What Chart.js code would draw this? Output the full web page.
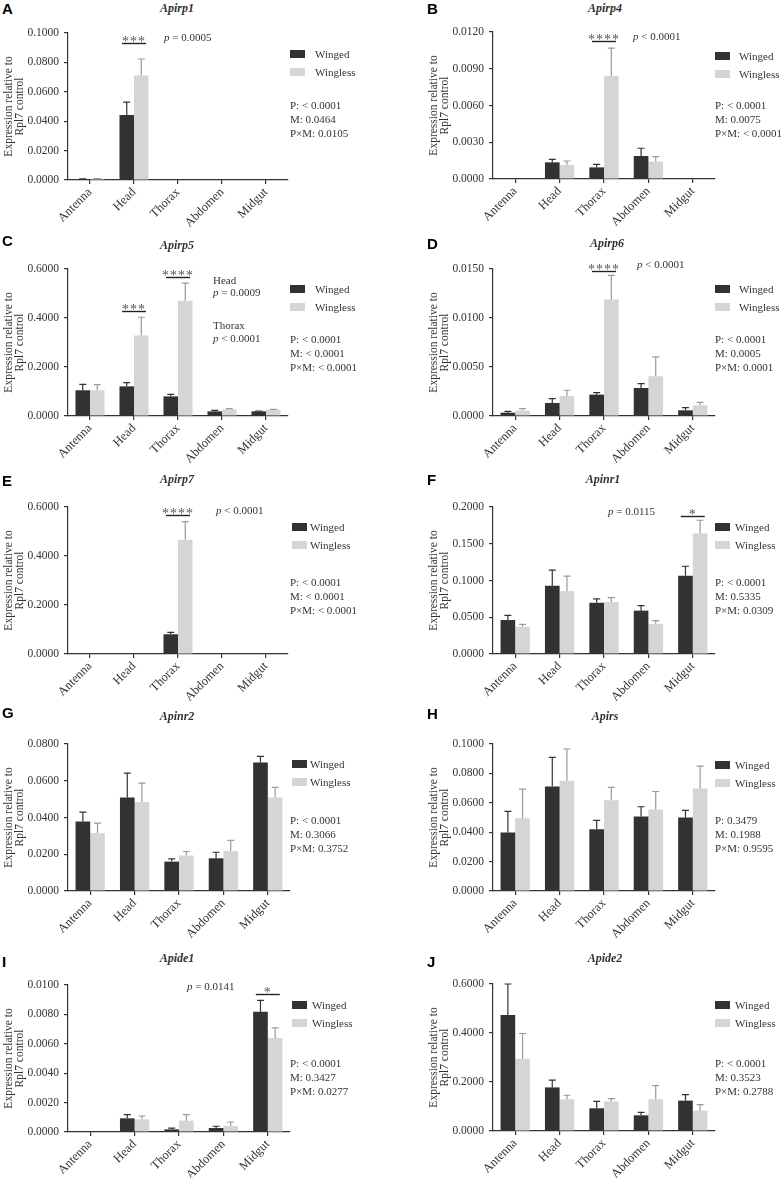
<!DOCTYPE html>
<html>
<head>
<meta charset="utf-8">
<script src="https://cdn.jsdelivr.net/npm/chart.js@4.4.0/dist/chart.umd.min.js"></script>
<style>
  body { margin: 0; background: #fff; }
  #fig { position: relative; width: 783px; height: 1178px; overflow: hidden;
         font-family: "Liberation Serif", "Times New Roman", serif; font-size: 11px; color: #333; }
  #fig canvas { position: absolute; }
  .t { position: absolute; white-space: nowrap; line-height: 12px; }
  .letter { font-family: "Liberation Sans", Arial, sans-serif; font-weight: bold; font-size: 15px;
            line-height: 15px; color: #000; }
  .gene { font-weight: bold; font-style: italic; font-size: 12px; transform: translateX(-50%); }
  .sw { position: absolute; width: 15px; height: 8px; }
</style>
</head>
<body>
<div id="fig"></div>
<script>
// ─── Données ──────────────────────────────────────────────────────────────
const TISSUES = ['Antenna', 'Head', 'Thorax', 'Abdomen', 'Midgut'];
const SERIES  = ['Winged', 'Wingless'];

// moyenne + SEM (barre d'erreur supérieure) par tissu
const APIRP1_WINGED       = [0.0006, 0.0443, 0, 0, 0];
const APIRP1_WINGED_SEM   = [0.0002, 0.0087, 0, 0, 0];
const APIRP1_WINGLESS     = [0.0008, 0.0711, 0, 0, 0];
const APIRP1_WINGLESS_SEM = [0.0002, 0.0112, 0, 0, 0];

const APIRP4_WINGED       = [0, 0.00136, 0.00095, 0.00188, 0];
const APIRP4_WINGED_SEM   = [0, 0.00025, 0.00025, 0.00063, 0];
const APIRP4_WINGLESS     = [0, 0.00115, 0.00843, 0.00142, 0];
const APIRP4_WINGLESS_SEM = [0, 0.00032, 0.00226, 0.00041, 0];

const APIRP5_WINGED       = [0.105, 0.121, 0.080, 0.019, 0.019];
const APIRP5_WINGED_SEM   = [0.024, 0.015, 0.0086, 0.004, 0.0015];
const APIRP5_WINGLESS     = [0.105, 0.329, 0.470, 0.0273, 0.026];
const APIRP5_WINGLESS_SEM = [0.023, 0.074, 0.0726, 0.003, 0.001];

const APIRP6_WINGED       = [0.00034, 0.00133, 0.00218, 0.00286, 0.00058];
const APIRP6_WINGED_SEM   = [0.00014, 0.00044, 0.00021, 0.00045, 0.00027];
const APIRP6_WINGLESS     = [0.00055, 0.00205, 0.0119, 0.00406, 0.00109];
const APIRP6_WINGLESS_SEM = [0.0002, 0.00058, 0.00245, 0.00197, 0.00031];

const APIRP7_WINGED       = [0, 0, 0.0805, 0, 0];
const APIRP7_WINGED_SEM   = [0, 0, 0.0081, 0, 0];
const APIRP7_WINGLESS     = [0, 0, 0.4664, 0, 0];
const APIRP7_WINGLESS_SEM = [0, 0, 0.0736, 0, 0];

const APINR1_WINGED       = [0.0462, 0.0928, 0.0697, 0.059, 0.1063];
const APINR1_WINGED_SEM   = [0.0063, 0.0212, 0.0054, 0.0068, 0.0131];
const APINR1_WINGLESS     = [0.0371, 0.0855, 0.0707, 0.041, 0.1638];
const APINR1_WINGLESS_SEM = [0.0032, 0.0204, 0.0059, 0.0045, 0.0182];

const APINR2_WINGED       = [0.0378, 0.0509, 0.016, 0.0178, 0.070];
const APINR2_WINGED_SEM   = [0.0051, 0.0133, 0.0015, 0.0033, 0.0033];
const APINR2_WINGLESS     = [0.0315, 0.0484, 0.0193, 0.0218, 0.0509];
const APINR2_WINGLESS_SEM = [0.0054, 0.0103, 0.0022, 0.0057, 0.0055];

const APIRS_WINGED        = [0.0398, 0.0711, 0.042, 0.0507, 0.050];
const APIRS_WINGED_SEM    = [0.0143, 0.0198, 0.006, 0.0066, 0.0048];
const APIRS_WINGLESS      = [0.0495, 0.075, 0.0618, 0.0555, 0.0698];
const APIRS_WINGLESS_SEM  = [0.0198, 0.0216, 0.0087, 0.0122, 0.0152];

const APIDE1_WINGED       = [0, 0.00093, 0.00018, 0.00027, 0.00818];
const APIDE1_WINGED_SEM   = [0, 0.00025, 0.00009, 0.00012, 0.00077];
const APIDE1_WINGLESS     = [0, 0.00086, 0.00077, 0.00041, 0.0064];
const APIDE1_WINGLESS_SEM = [0, 0.00023, 0.00041, 0.00027, 0.00069];

const APIDE2_WINGED       = [0.473, 0.178, 0.0927, 0.064, 0.124];
const APIDE2_WINGED_SEM   = [0.127, 0.030, 0.0283, 0.0124, 0.0246];
const APIDE2_WINGLESS     = [0.2945, 0.1295, 0.121, 0.1295, 0.083];
const APIDE2_WINGLESS_SEM = [0.1035, 0.0165, 0.011, 0.056, 0.025];

// axes Y : [max, pas]
const Y_APIRP1 = [0.1, 0.02];
const Y_APIRP4 = [0.012, 0.003];
const Y_APIRP5 = [0.6, 0.2];
const Y_APIRP6 = [0.015, 0.005];
const Y_APIRP7 = [0.6, 0.2];
const Y_APINR1 = [0.2, 0.05];
const Y_APINR2 = [0.08, 0.02];
const Y_APIRS  = [0.1, 0.02];
const Y_APIDE1 = [0.01, 0.002];
const Y_APIDE2 = [0.6, 0.2];

// ─── Mise en page des 10 panneaux ─────────────────────────────────────────
const COLOR_WINGED   = '#323232';
const COLOR_WINGLESS = '#d5d5d5';
const INK = '#333';
const AXIS_H = 147;

const PANELS = [
  { letter: 'A', gene: 'Apirp1', w: APIRP1_WINGED, ws: APIRP1_WINGED_SEM, l: APIRP1_WINGLESS, ls: APIRP1_WINGLESS_SEM, yax: Y_APIRP1,
    ax: [68, 33, 288], lx: [2, 8], gx: [177, 8], leg: [290, 54, 315], stats: [290, 105, ['P: < 0.0001', 'M: 0.0464', 'P×M: 0.0105']],
    sig: [{ cat: 1, y: 0.0932, stars: '***' }], notes: [[164, 37, '<i>p</i> = 0.0005']] },
  { letter: 'B', gene: 'Apirp4', w: APIRP4_WINGED, ws: APIRP4_WINGED_SEM, l: APIRP4_WINGLESS, ls: APIRP4_WINGLESS_SEM, yax: Y_APIRP4,
    ax: [493, 32, 715], lx: [427, 8], gx: [605, 8], leg: [715, 56, 739], stats: [715, 105, ['P: < 0.0001', 'M: 0.0075', 'P×M: < 0.0001']],
    sig: [{ cat: 2, y: 0.01124, stars: '****' }], notes: [[633, 36, '<i>p</i> < 0.0001']] },
  { letter: 'C', gene: 'Apirp5', w: APIRP5_WINGED, ws: APIRP5_WINGED_SEM, l: APIRP5_WINGLESS, ls: APIRP5_WINGLESS_SEM, yax: Y_APIRP5,
    ax: [68, 269, 288], lx: [2, 240], gx: [177, 245], leg: [290, 289, 315], stats: [290, 339, ['P: < 0.0001', 'M: < 0.0001', 'P×M: < 0.0001']],
    sig: [{ cat: 1, y: 0.4305, stars: '***' }, { cat: 2, y: 0.5686, stars: '****' }],
    notes: [[213, 280, 'Head'], [213, 292, '<i>p</i> = 0.0009'], [213, 325, 'Thorax'], [213, 338, '<i>p</i> < 0.0001']] },
  { letter: 'D', gene: 'Apirp6', w: APIRP6_WINGED, ws: APIRP6_WINGED_SEM, l: APIRP6_WINGLESS, ls: APIRP6_WINGLESS_SEM, yax: Y_APIRP6,
    ax: [493, 269, 715], lx: [427, 243], gx: [607, 243], leg: [715, 289, 739], stats: [715, 339, ['P: < 0.0001', 'M: 0.0005', 'P×M: 0.0001']],
    sig: [{ cat: 2, y: 0.0148, stars: '****' }], notes: [[637, 264, '<i>p</i> < 0.0001']] },
  { letter: 'E', gene: 'Apirp7', w: APIRP7_WINGED, ws: APIRP7_WINGED_SEM, l: APIRP7_WINGLESS, ls: APIRP7_WINGLESS_SEM, yax: Y_APIRP7,
    ax: [68, 507, 288], lx: [2, 480], gx: [177, 479], leg: [292, 527, 310], stats: [290, 582, ['P: < 0.0001', 'M: < 0.0001', 'P×M: < 0.0001']],
    sig: [{ cat: 2, y: 0.566, stars: '****' }], notes: [[216, 510, '<i>p</i> < 0.0001']] },
  { letter: 'F', gene: 'Apinr1', w: APINR1_WINGED, ws: APINR1_WINGED_SEM, l: APINR1_WINGLESS, ls: APINR1_WINGLESS_SEM, yax: Y_APINR1,
    ax: [493, 507, 715], lx: [427, 479], gx: [603, 479], leg: [715, 527, 735], stats: [715, 582, ['P: < 0.0001', 'M: 0.5335', 'P×M: 0.0309']],
    sig: [{ cat: 4, y: 0.188, stars: '*' }], notes: [[608, 511, '<i>p</i> = 0.0115']] },
  { letter: 'G', gene: 'Apinr2', w: APINR2_WINGED, ws: APINR2_WINGED_SEM, l: APINR2_WINGLESS, ls: APINR2_WINGLESS_SEM, yax: Y_APINR2,
    ax: [68, 744, 290], lx: [2, 712], gx: [177, 716], leg: [292, 764, 310], stats: [290, 820, ['P: < 0.0001', 'M: 0.3066', 'P×M: 0.3752']],
    sig: [], notes: [] },
  { letter: 'H', gene: 'Apirs', w: APIRS_WINGED, ws: APIRS_WINGED_SEM, l: APIRS_WINGLESS, ls: APIRS_WINGLESS_SEM, yax: Y_APIRS,
    ax: [493, 744, 715], lx: [427, 713], gx: [605, 716], leg: [715, 765, 735], stats: [715, 820, ['P: 0.3479', 'M: 0.1988', 'P×M: 0.9595']],
    sig: [], notes: [] },
  { letter: 'I', gene: 'Apide1', w: APIDE1_WINGED, ws: APIDE1_WINGED_SEM, l: APIDE1_WINGLESS, ls: APIDE1_WINGLESS_SEM, yax: Y_APIDE1,
    ax: [68, 985, 290], lx: [2, 961], gx: [177, 958], leg: [292, 1005, 312], stats: [290, 1063, ['P: < 0.0001', 'M: 0.3427', 'P×M: 0.0277']],
    sig: [{ cat: 4, y: 0.0094, stars: '*' }], notes: [[187, 986, '<i>p</i> = 0.0141']] },
  { letter: 'J', gene: 'Apide2', w: APIDE2_WINGED, ws: APIDE2_WINGED_SEM, l: APIDE2_WINGLESS, ls: APIDE2_WINGLESS_SEM, yax: Y_APIDE2,
    ax: [493, 984, 715], lx: [427, 961], gx: [605, 958], leg: [715, 1005, 735], stats: [715, 1063, ['P: < 0.0001', 'M: 0.3523', 'P×M: 0.2788']],
    sig: [], notes: [] },
];

const fig = document.getElementById('fig');

function addText(html, x, y, cls) {
  const d = document.createElement('div');
  d.className = 't' + (cls ? ' ' + cls : '');
  d.style.left = x + 'px';
  d.style.top  = (y - 6) + 'px';
  d.innerHTML = html;
  fig.appendChild(d);
  return d;
}

// ─── Plugins : barres d'erreur (SEM) et marques de significativité ───────
const errorBars = {
  id: 'errorBars',
  afterDatasetsDraw(chart) {
    const { ctx } = chart;
    const y = chart.scales.y;
    chart.data.datasets.forEach((ds, d) => {
      chart.getDatasetMeta(d).data.forEach((bar, i) => {
        const sem = ds.sem[i];
        if (!sem) return;
        const top = y.getPixelForValue(ds.data[i] + sem);
        ctx.save();
        ctx.strokeStyle = ds.errColor;
        ctx.lineWidth = 1.2;
        ctx.beginPath();
        ctx.moveTo(bar.x, bar.y);
        ctx.lineTo(bar.x, top);
        ctx.moveTo(bar.x - 3.5, top);
        ctx.lineTo(bar.x + 3.5, top);
        ctx.stroke();
        ctx.restore();
      });
    });
  },
};

function sigPlugin(marks) {
  return {
    id: 'sigMarks',
    afterDatasetsDraw(chart) {
      const { ctx } = chart;
      const { x, y } = chart.scales;
      marks.forEach((m) => {
        const cx = x.getPixelForValue(m.cat);
        const yy = Math.round(y.getPixelForValue(m.y)) + 0.5;
        ctx.save();
        ctx.strokeStyle = '#222';
        ctx.lineWidth = 1.4;
        ctx.beginPath();
        ctx.moveTo(cx - 12, yy);
        ctx.lineTo(cx + 12, yy);
        ctx.stroke();
        ctx.fillStyle = '#555';
        ctx.font = '14px "Liberation Serif"';
        ctx.textAlign = 'center';
        ctx.textBaseline = 'alphabetic';
        ctx.letterSpacing = '1px';
        ctx.fillText(m.stars, cx, yy + 2);
        ctx.restore();
      });
    },
  };
}

const FAMILY = '"Liberation Serif", "Times New Roman", serif';
const FONT_Y = { family: FAMILY, size: 11.5 };
const FONT_X = { family: FAMILY, size: 12.5 };

function buildPanel(p) {
  const [axL, axT, axR] = p.ax;
  const Y_W = 65, PAD_T = 12, PAD_R = 10, X_H = 58;
  const w = Y_W + (axR - axL) + PAD_R;
  const h = PAD_T + AXIS_H + X_H;

  const cv = document.createElement('canvas');
  cv.width = w; cv.height = h;
  cv.style.left = (axL - Y_W) + 'px';
  cv.style.top  = (axT - PAD_T) + 'px';
  cv.style.width = w + 'px';
  cv.style.height = h + 'px';
  fig.appendChild(cv);

  new Chart(cv, {
    type: 'bar',
    data: {
      labels: TISSUES,
      datasets: [
        { label: SERIES[0], data: p.w, sem: p.ws, errColor: '#333', backgroundColor: COLOR_WINGED,
          borderWidth: 0, categoryPercentage: 0.66, barPercentage: 1 },
        { label: SERIES[1], data: p.l, sem: p.ls, errColor: '#9a9a9a', backgroundColor: COLOR_WINGLESS,
          borderWidth: 0, categoryPercentage: 0.66, barPercentage: 1 },
      ],
    },
    options: {
      responsive: false,
      devicePixelRatio: 1,
      animation: false,
      layout: { padding: { left: 0, top: PAD_T, right: PAD_R, bottom: 0 } },
      plugins: { legend: { display: false }, tooltip: { enabled: false } },
      scales: {
        x: {
          offset: true,
          grid: { display: true, drawOnChartArea: false, drawTicks: true, tickLength: 4, offset: false, color: INK, lineWidth: 1.2 },
          border: { display: true, color: INK, width: 1.2 },
          ticks: { color: INK, font: FONT_X, minRotation: 45, maxRotation: 45, padding: 1, autoSkip: false },
          afterFit: (s) => { s.height = X_H; },
        },
        y: {
          min: 0, max: p.yax[0],
          grid: { display: true, drawOnChartArea: false, drawTicks: true, tickLength: 4, color: INK, lineWidth: 1.2 },
          border: { display: true, color: INK, width: 1.2 },
          ticks: { color: INK, font: FONT_Y, stepSize: p.yax[1], padding: 5, callback: (v) => Number(v).toFixed(4) },
          title: { display: true, text: ['Expression relative to', 'Rpl7 control'], color: INK,
                   font: { family: FAMILY, size: 11.5, lineHeight: 1 }, padding: { top: 0, bottom: 0 } },
          afterFit: (s) => { s.width = Y_W; },
        },
      },
    },
    plugins: [errorBars, sigPlugin(p.sig)],
  });

  // textes, légende et statistiques
  addText(p.letter, p.lx[0], p.lx[1] - 1, 'letter');
  addText(p.gene, p.gx[0], p.gx[1], 'gene');
  const [lx, ly, tx] = p.leg;
  [[COLOR_WINGED, SERIES[0], ly], [COLOR_WINGLESS, SERIES[1], ly + 18]].forEach(([c, name, yy]) => {
    const sw = document.createElement('div');
    sw.className = 'sw';
    sw.style.left = lx + 'px';
    sw.style.top = (yy - 4) + 'px';
    sw.style.background = c;
    fig.appendChild(sw);
    addText(name, tx, yy);
  });
  const [sx, sy, lines] = p.stats;
  lines.forEach((s, i) => addText(s, sx, sy + i * 14));
  p.notes.forEach(([x, y, html]) => addText(html, x, y));
}

PANELS.forEach(buildPanel);
</script>
</body>
</html>
